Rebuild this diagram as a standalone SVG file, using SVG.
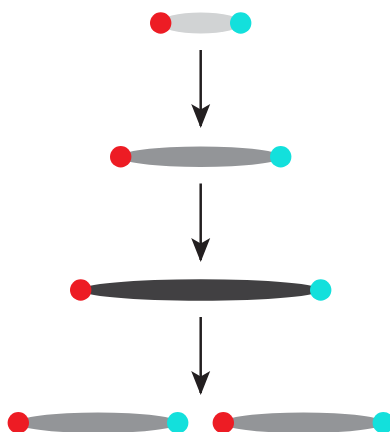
<svg xmlns="http://www.w3.org/2000/svg" width="390" height="432" viewBox="0 0 390 432">
<style>
.red{fill:#ed1c24}
.cyan{fill:#13e0dc}
.light{fill:#d1d3d4}
.mid{fill:#939598}
.dark{fill:#414042}
.conn line{stroke:#231f20;stroke-width:2.5}
</style>
<defs>
<marker id="ah" viewBox="0 0 24 20" refX="22" refY="10" markerWidth="24" markerHeight="20" markerUnits="userSpaceOnUse" orient="auto">
<path d="M24,10 L0,0.5 L5.5,10 L0,19.5 Z" fill="#231f20"/>
</marker>
</defs>
<g id="n1">
<ellipse class="light" cx="200.7" cy="23" rx="41" ry="10.5"/>
<circle class="red" cx="160.7" cy="23" r="10.7"/>
<circle class="cyan" cx="240.7" cy="23" r="10.7"/>
</g>
<g id="n2">
<ellipse class="mid" cx="200.7" cy="156.7" rx="81" ry="10.3"/>
<circle class="red" cx="120.7" cy="156.7" r="10.7"/>
<circle class="cyan" cx="280.7" cy="156.7" r="10.7"/>
</g>
<g id="n3">
<ellipse class="dark" cx="200.7" cy="290" rx="121" ry="10.7"/>
<circle class="red" cx="80.7" cy="290" r="10.7"/>
<circle class="cyan" cx="320.7" cy="290" r="10.7"/>
</g>
<g id="n4">
<ellipse class="mid" cx="98" cy="422.7" rx="81" ry="10.3"/>
<circle class="red" cx="18.3" cy="422.7" r="10.7"/>
<circle class="cyan" cx="177.7" cy="422.7" r="10.7"/>
</g>
<g id="n5">
<ellipse class="mid" cx="303.3" cy="422.7" rx="81" ry="10.3"/>
<circle class="red" cx="223.3" cy="422.7" r="10.7"/>
<circle class="cyan" cx="383.3" cy="422.7" r="10.7"/>
</g>
<g id="connectors" class="conn">
<line x1="200.7" y1="50" x2="200.7" y2="126" marker-end="url(#ah)"/>
<line x1="200.7" y1="183.5" x2="200.7" y2="260" marker-end="url(#ah)"/>
<line x1="200.7" y1="317" x2="200.7" y2="393" marker-end="url(#ah)"/>
</g>
</svg>
